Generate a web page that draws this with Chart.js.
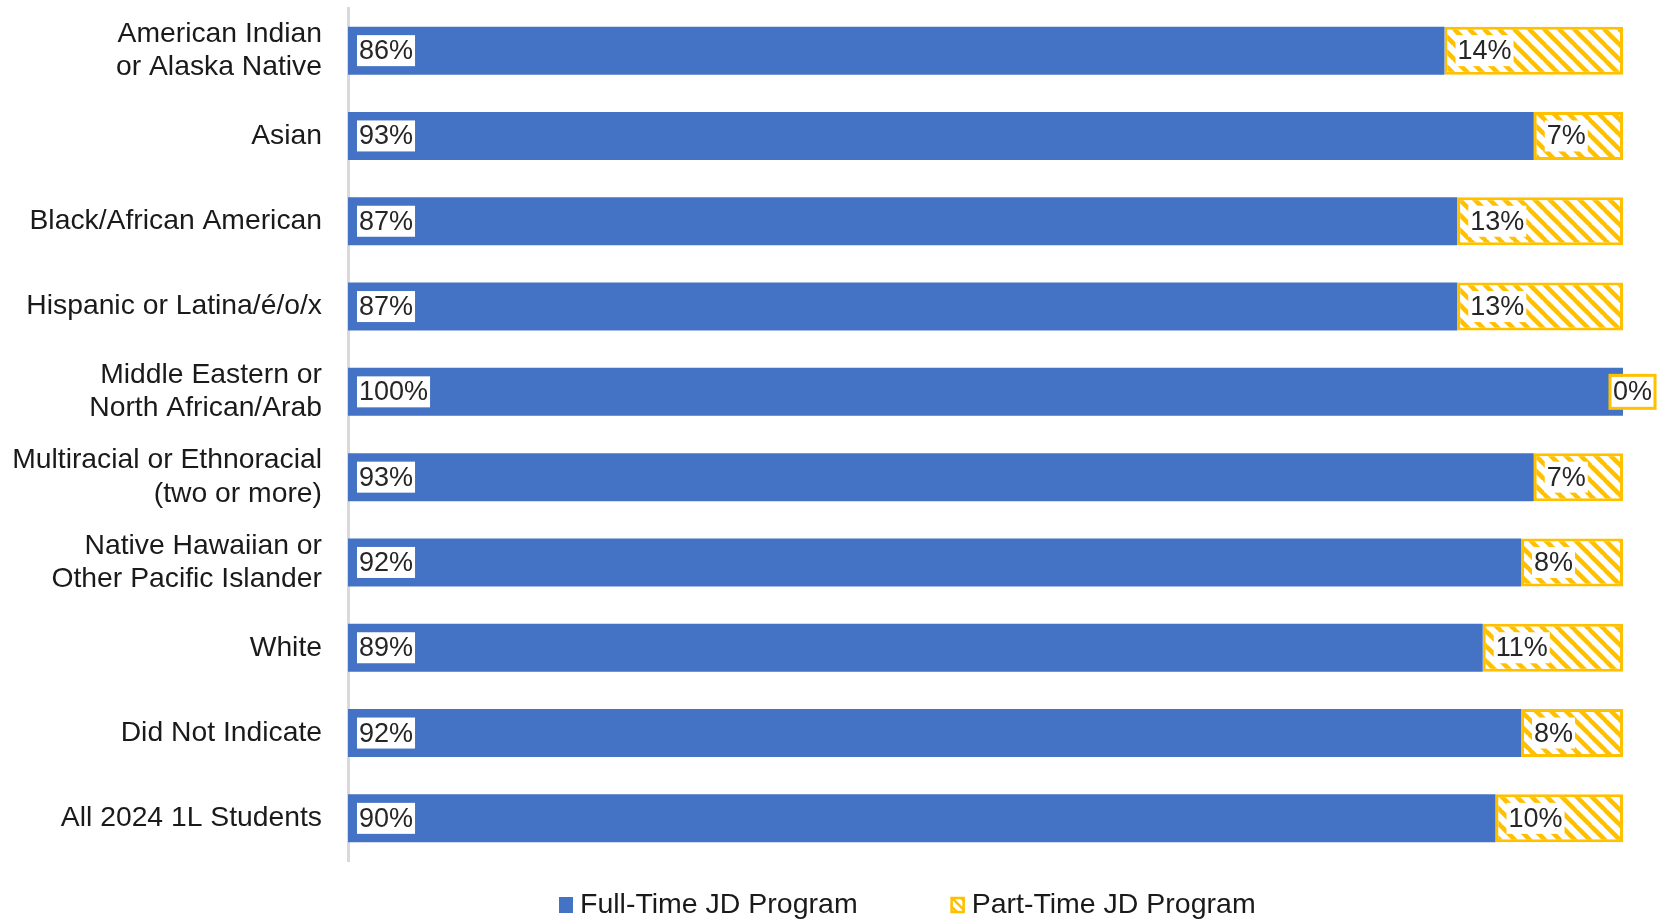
<!DOCTYPE html>
<html>
<head>
<meta charset="utf-8">
<script src="https://cdn.jsdelivr.net/npm/chart.js@4"></script>
<style>
  body { margin: 0; background: #fff; }
  canvas { display: block; }
</style>
</head>
<body>

<canvas id="barChart-jd-program" width="1660" height="923"></canvas>

<script>

// rows, top to bottom
var groups = [
    ["American Indian", "or Alaska Native"],
    "Asian",
    "Black/African American",
    "Hispanic or Latina/é/o/x",
    ["Middle Eastern or", "North African/Arab"],
    ["Multiracial or Ethnoracial", "(two or more)"],
    ["Native Hawaiian or", "Other Pacific Islander"],
    "White",
    "Did Not Indicate",
    "All 2024 1L Students"
]
var fullTime = [86, 93, 87, 87, 100, 93, 92, 89, 92, 90]
var partTime = [14, 7, 13, 13, 0, 7, 8, 11, 8, 10]
var seriesNames = ["Full-Time JD Program", "Part-Time JD Program"]

var BLUE = '#4472C4'
var GOLD = '#FFC000'
var FONT = '"Liberation Sans", Arial, sans-serif'

// wide downward diagonal fill, like the office pattern
function hatch(size, width) {
    var c = document.createElement('canvas');
    c.width = size;
    c.height = size;
    var g = c.getContext('2d');
    g.fillStyle = '#fff';
    g.fillRect(0, 0, size, size);
    g.strokeStyle = GOLD;
    g.lineWidth = width;
    g.beginPath();
    for (var k = -1; k <= 1; k++) {
        g.moveTo(k * size - 1, -1);
        g.lineTo(k * size + size + 1, size + 1);
    }
    g.stroke();
    return g.createPattern(c, 'repeat');
}

var ctx = document.getElementById('barChart-jd-program').getContext('2d');
var stripes = hatch(15, 4.5);
var smallStripes = hatch(9, 2.5);

// white boxes with the percentage, near the start of each segment
var valueLabels = {
    id: 'valueLabels',
    afterDatasetsDraw: function (chart) {
        var c = chart.ctx;
        c.save();
        c.font = '27px ' + FONT;
        c.textBaseline = 'middle';
        chart.data.datasets.forEach(function (ds, di) {
            chart.getDatasetMeta(di).data.forEach(function (bar, i) {
                var v = ds.data[i];
                var txt = v + '%';
                var w = c.measureText(txt).width + 4;
                var h = 31;
                var left = v === 0 ? bar.base - 12 : bar.base + (di === 0 ? 9 : 11);
                var top = bar.y - h / 2;
                c.fillStyle = '#fff';
                c.fillRect(left, top, w, h);
                if (v === 0) {
                    c.strokeStyle = GOLD;
                    c.lineWidth = 3;
                    c.strokeRect(left - 1, top - 1, w + 2, h + 2);
                }
                c.fillStyle = '#262626';
                c.fillText(txt, left + 2, bar.y + 1);
            });
        });
        c.restore();
    }
};

// single row legend under the plot
var legendRow = {
    id: 'legendRow',
    afterDraw: function (chart) {
        var c = chart.ctx;
        var y = 905;
        var x = 559;
        c.save();
        c.font = '28.5px ' + FONT;
        c.textBaseline = 'middle';
        chart.data.datasets.forEach(function (ds, i) {
            if (i === 0) {
                c.fillStyle = BLUE;
                c.fillRect(x, y - 8, 14, 16);
            } else {
                c.fillStyle = smallStripes;
                c.fillRect(x, y - 8, 14, 16);
                c.strokeStyle = GOLD;
                c.lineWidth = 2.5;
                c.strokeRect(x + 1, y - 7, 12, 14);
            }
            c.fillStyle = '#1a1a1a';
            c.fillText(ds.label, x + 21, y);
            x += 21 + c.measureText(ds.label).width + 93;
        });
        c.restore();
    }
};

var chart = new Chart(ctx, {
    type: 'bar',
    data: {
        labels: groups,
        datasets: [{
            label: seriesNames[0],
            data: fullTime,
            backgroundColor: BLUE,
            borderWidth: 0,
            barPercentage: 0.5625,
            categoryPercentage: 1
        }, {
            label: seriesNames[1],
            data: partTime,
            backgroundColor: stripes,
            borderColor: GOLD,
            borderWidth: 3,
            borderSkipped: false,
            barPercentage: 0.5625,
            categoryPercentage: 1
        }]
    },
    options: {
        responsive: false,
        animation: false,
        indexAxis: 'y',
        layout: { padding: { top: 8, right: 37, bottom: 62, left: 0 } },
        plugins: {
            legend: { display: false },
            tooltip: { enabled: false }
        },
        scales: {
            x: { stacked: true, min: 0, max: 100, display: false },
            y: {
                stacked: true,
                grid: { display: false, drawTicks: false },
                border: { color: '#D9D9D9', width: 3 },
                ticks: {
                    padding: 26,
                    color: '#1a1a1a',
                    font: { family: FONT, size: 28.3, lineHeight: 1.18 }
                },
                afterFit: function (axis) {
                    axis.width = 348;
                    // labels sit inside their rows, no extra room needed
                    axis.paddingTop = 0;
                    axis.paddingBottom = 0;
                }
            }
        }
    },
    plugins: [valueLabels, legendRow]
});

</script>
</body>
</html>
